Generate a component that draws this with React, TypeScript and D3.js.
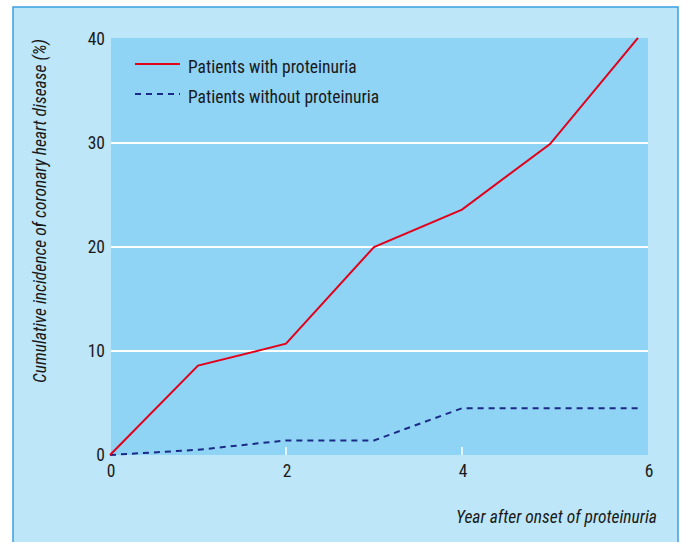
import React from "react";
import * as d3 from "d3";

const years = [0, 1, 2, 3, 4, 5, 6];
const withProteinuria = [0, 8.6, 10.7, 20.0, 23.6, 29.9, 40.1];
const withoutProteinuria = [0, 0.5, 1.4, 1.4, 4.5, 4.5, 4.5];
const xTicks = [0, 2, 4, 6];
const yTicks = [0, 10, 20, 30, 40];
const seriesNames = ["Patients with proteinuria", "Patients without proteinuria"];
const yTitle = "Cumulative incidence of coronary heart disease (%)";
const xTitle = "Year after onset of proteinuria";

const W = 681;
const H = 542;
const FONT = "'Liberation Sans Narrow', 'Roboto Condensed', 'Liberation Sans', Arial, sans-serif";
const FS = 17.5;

export default function App() {
  const plotLeft = 111;
  const plotRight = 648;
  const plotTop = 38;
  const plotBottom = 455;

  const x = d3.scaleLinear().domain([0, 6]).range([110, 638]);
  const y = d3.scaleLinear().domain([0, 40]).range([455, 39]);

  const line = d3
    .line<number>()
    .x((_, i) => x(years[i]))
    .y((d) => y(d));

  return (
    <svg
      width={W}
      height={H}
      style={{ position: "absolute", left: 0, top: 0, background: "#ffffff" }}
    >
      {/* outer frame */}
      <rect x={13} y={7} width={665} height={H} fill="#bde6f8" stroke="#3a9fe2" strokeWidth={1.5} />
      {/* plot area */}
      <rect
        x={plotLeft}
        y={plotTop}
        width={plotRight - plotLeft}
        height={plotBottom - plotTop}
        fill="#8fd3f5"
      />
      {/* gridlines */}
      {yTicks
        .filter((t) => t > 0 && t < 40)
        .map((t) => (
          <line key={t} x1={plotLeft} x2={plotRight} y1={y(t)} y2={y(t)} stroke="#ffffff" strokeWidth={2} />
        ))}
      {/* x tick marks */}
      {xTicks
        .filter((t) => t > 0 && t < 6)
        .map((t) => (
          <line key={t} x1={x(t)} x2={x(t)} y1={plotBottom - 8} y2={plotBottom} stroke="#ffffff" strokeWidth={1.5} />
        ))}
      {/* y tick labels */}
      {yTicks.map((t) => (
        <text
          key={t}
          x={105}
          y={y(t)}
          dy="0.35em"
          textAnchor="end"
          fontFamily={FONT}
          fontSize={FS}
          fill="#1a1a1a"
        >
          {t}
        </text>
      ))}
      {/* x tick labels */}
      {xTicks.map((t, i) => (
        <text
          key={t}
          x={x(t) + (i === xTicks.length - 1 ? 11 : 1)}
          y={477}
          textAnchor="middle"
          fontFamily={FONT}
          fontSize={FS}
          fill="#1a1a1a"
        >
          {t}
        </text>
      ))}
      {/* series */}
      <path d={line(withoutProteinuria) || ""} fill="none" stroke="#1b2a86" strokeWidth={2} strokeDasharray="6,5" />
      <path d={line(withProteinuria) || ""} fill="none" stroke="#e2001a" strokeWidth={2} />
      {/* legend */}
      <line x1={135} x2={180} y1={64} y2={64} stroke="#e2001a" strokeWidth={2} />
      <text x={188} y={73} fontFamily={FONT} fontSize={FS} fill="#1a1a1a">
        {seriesNames[0]}
      </text>
      <line x1={135} x2={180} y1={94} y2={94} stroke="#1b2a86" strokeWidth={2} strokeDasharray="6,5" />
      <text x={188} y={103} fontFamily={FONT} fontSize={FS} fill="#1a1a1a">
        {seriesNames[1]}
      </text>
      {/* axis titles */}
      <text
        transform={`translate(46, 211) rotate(-90)`}
        textAnchor="middle"
        fontFamily={FONT}
        fontStyle="italic"
        fontSize={FS}
        fill="#1a1a1a"
      >
        {yTitle}
      </text>
      <text
        x={657}
        y={523}
        textAnchor="end"
        fontFamily={FONT}
        fontStyle="italic"
        fontSize={FS}
        fill="#1a1a1a"
      >
        {xTitle}
      </text>
    </svg>
  );
}
